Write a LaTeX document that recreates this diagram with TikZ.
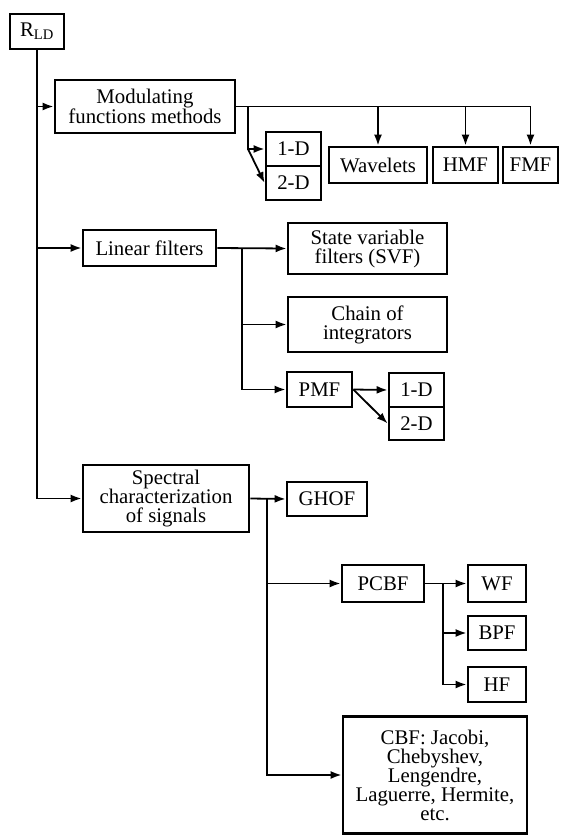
\documentclass[tikz,border=0pt]{standalone}
\usepackage{fontspec}
\setmainfont{Liberation Serif}
\usetikzlibrary{arrows.meta}
\tikzset{every picture/.style={line width=1.8pt}}
\tikzset{blk/.style={draw, line width=2.8pt, inner sep=0pt, align=center,
    font=\fontsize{20.8}{19}\selectfont}}

\begin{document}
\begin{tikzpicture}[x=1pt, y=-1pt, >={Latex[length=11pt,width=8pt]}]
    \useasboundingbox (0,0) rectangle (563,837);

    % 根节点
    \node[blk, minimum width=54pt, minimum height=35pt] (rld) at (37,31.5) {R\textsubscript{LD}};

    % 调制函数方法
    \node[blk, minimum width=180pt, minimum height=53pt] (mod) at (145,106.5) {Modulating\\functions methods};
    \node[blk, minimum width=55pt, minimum height=34pt] (md1) at (293.5,149) {1-D};
    \node[blk, minimum width=55pt, minimum height=34pt] (md2) at (293.5,183) {2-D};
    \node[blk, minimum width=98pt, minimum height=36pt] (wav) at (378,165) {Wavelets};
    \node[blk, minimum width=65pt, minimum height=36pt] (hmf) at (465.5,165) {HMF};
    \node[blk, minimum width=55pt, minimum height=36pt] (fmf) at (530.5,165) {FMF};

    % 线性滤波器
    \node[blk, minimum width=133pt, minimum height=36pt] (lin) at (149.5,248) {Linear filters};
    \node[blk, minimum width=159pt, minimum height=51pt] (svf) at (367.5,248.5) {State variable\\filters (SVF)};
    \node[blk, minimum width=159pt, minimum height=55pt] (chain) at (367.5,324.5) {Chain of\\integrators};
    \node[blk, minimum width=65pt, minimum height=35pt] (pmf) at (319.5,389.5) {PMF};
    \node[blk, minimum width=55pt, minimum height=34pt] (pd1) at (416.5,390) {1-D};
    \node[blk, minimum width=55pt, minimum height=33pt] (pd2) at (416.5,423.5) {2-D};

    % 信号的谱特征
    \node[blk, minimum width=166pt, minimum height=67pt] (spec) at (166,498.5) {Spectral\\characterization\\of signals};
    \node[blk, minimum width=80pt, minimum height=34pt] (ghof) at (327,499) {GHOF};
    \node[blk, minimum width=82pt, minimum height=37pt] (pcbf) at (383,583.5) {PCBF};
    \node[blk, minimum width=58pt, minimum height=37pt] (wf) at (497,583.5) {WF};
    \node[blk, minimum width=58pt, minimum height=34pt] (bpf) at (497,633) {BPF};
    \node[blk, minimum width=58pt, minimum height=35pt] (hf) at (497,684.5) {HF};
    \node[blk, minimum width=184pt, minimum height=117pt] (cbf) at (435,775) {CBF: Jacobi,\\Chebyshev,\\Lengendre,\\Laguerre, Hermite,\\etc.};

    % 分支点
    \coordinate (mbr) at (248,106.5);
    \coordinate (lbr) at (242,248);
    \coordinate (sbr) at (267,498.5);
    \coordinate (pbr) at (443,583.5);

    % 主干
    \draw[->] (rld.south) |- (spec.west);
    \draw[->] (rld.south |- mod.west) -- (mod.west);
    \draw[->] (rld.south |- lin.west) -- (lin.west);

    % 调制函数分支
    \draw[->] (mod.east) -| (fmf.north);
    \draw[->] (mod.east -| wav.north) -- (wav.north);
    \draw[->] (mod.east -| hmf.north) -- (hmf.north);
    \draw[->] (mbr) |- (md1.west);
    \draw[->] (mbr |- md1.west) -- (md2.west);

    % 线性滤波器分支
    \draw[->] (lin.east) -- (svf.west);
    \draw[->] (lbr) |- (chain.west);
    \draw[->] (lbr) |- (pmf.west);
    \draw[->] (pmf.east) -- (pd1.west);
    \draw[->] (pmf.east) -- (pd2.west);

    % 谱特征分支
    \draw[->] (spec.east) -- (ghof.west);
    \draw[->] (sbr) |- (pcbf.west);
    \draw[->] (sbr) |- (cbf.west);
    \draw[->] (pcbf.east) -- (wf.west);
    \draw[->] (pbr) |- (bpf.west);
    \draw[->] (pbr) |- (hf.west);
\end{tikzpicture}
\end{document}
